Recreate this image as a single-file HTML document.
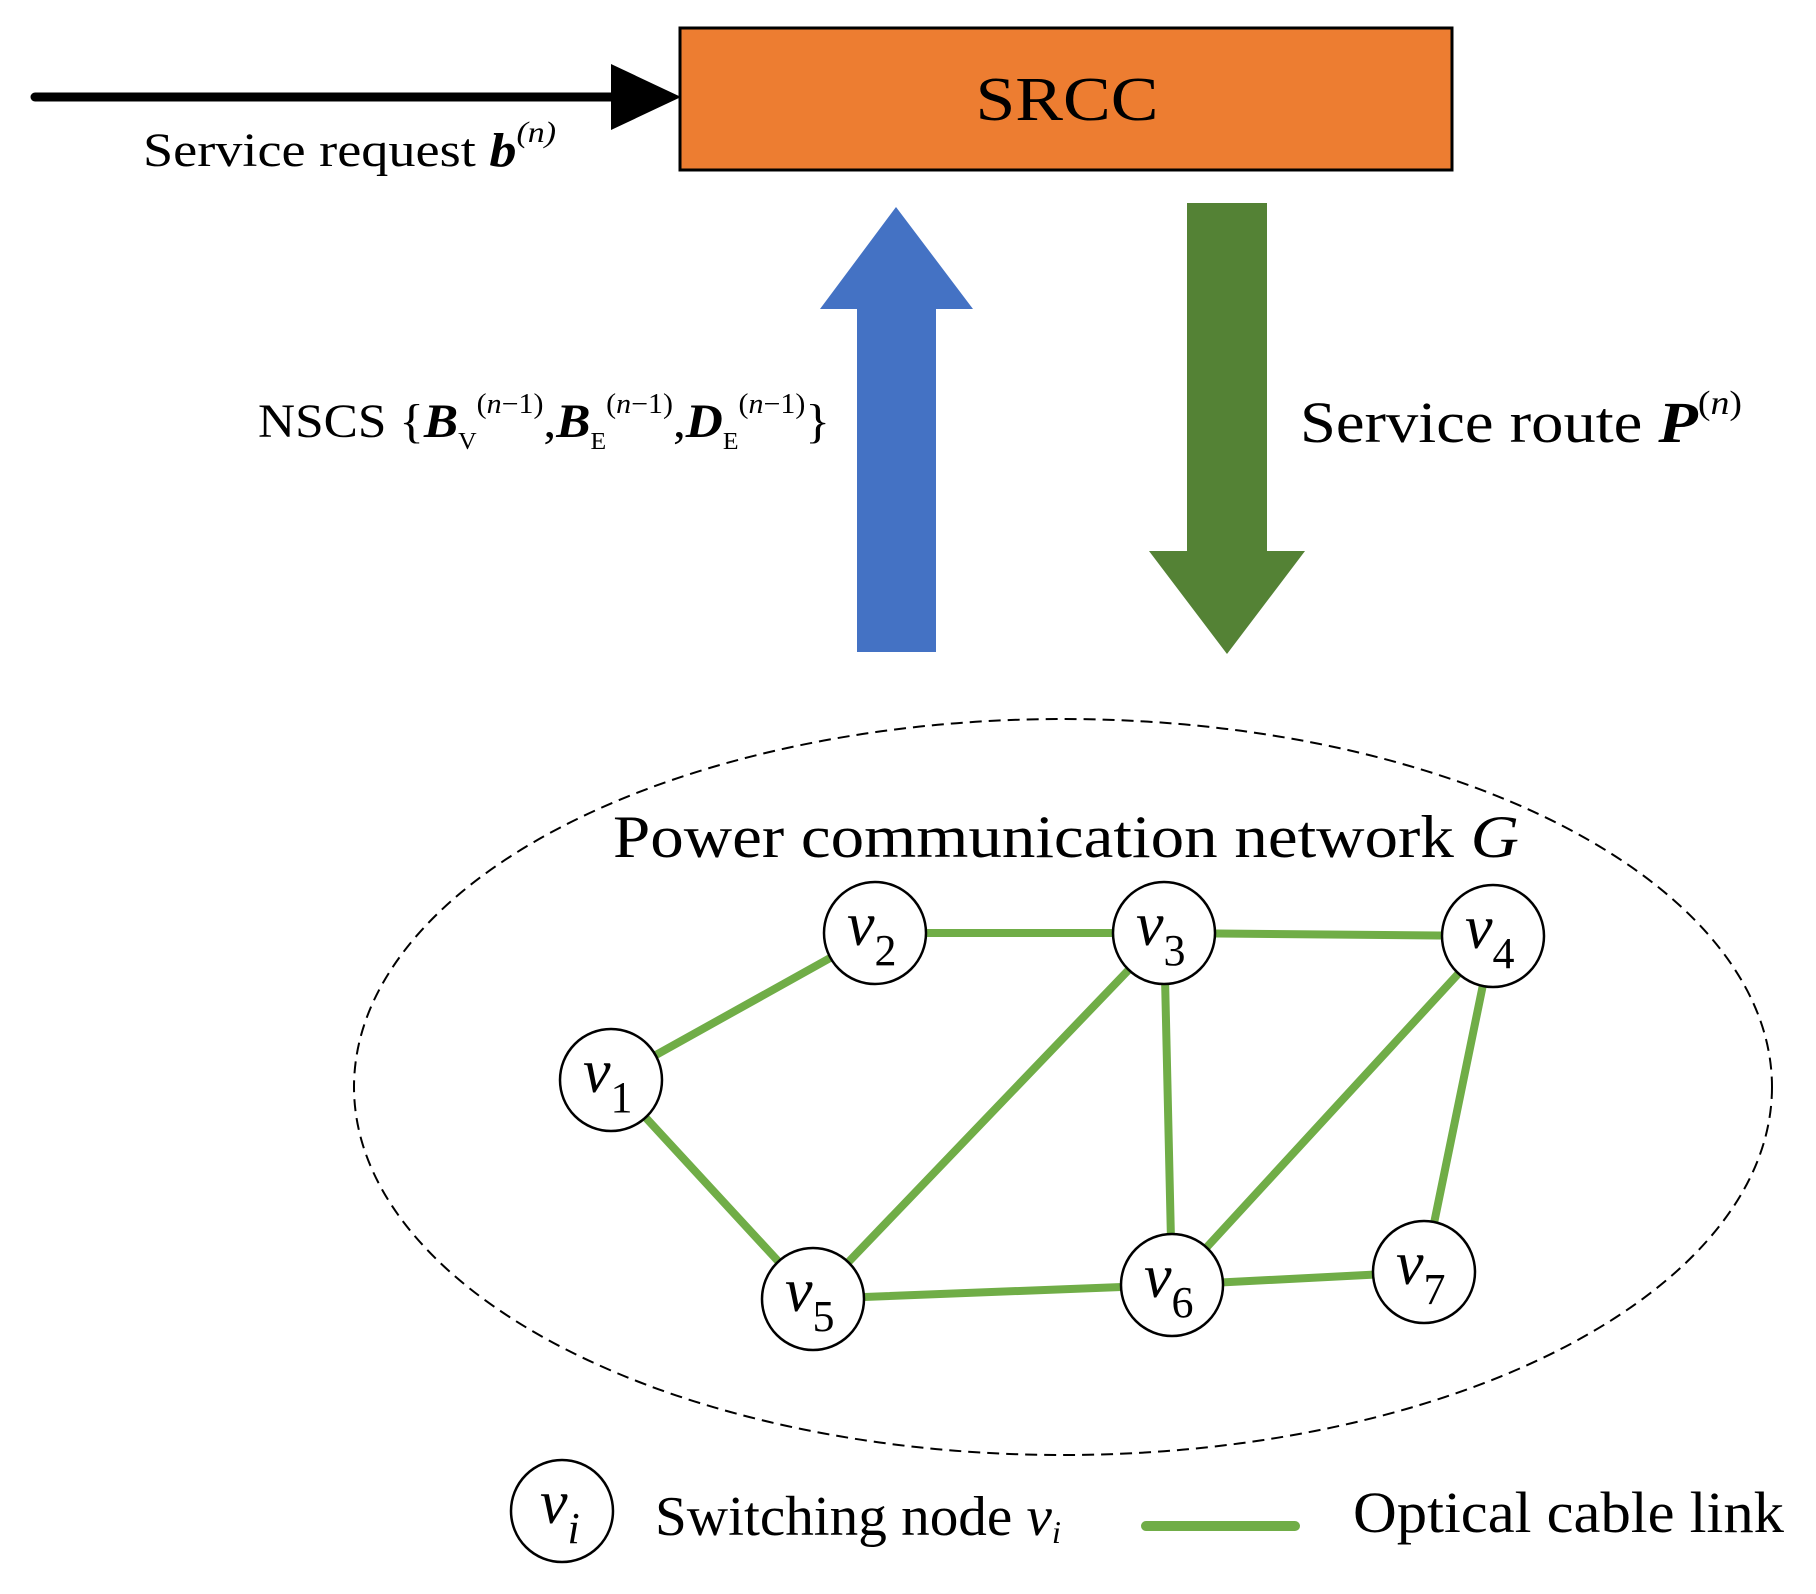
<!DOCTYPE html>
<html><head><meta charset="utf-8"><style>html,body{margin:0;padding:0;background:#fff}</style></head>
<body>
<svg width="1816" height="1589" viewBox="0 0 1816 1589" xmlns="http://www.w3.org/2000/svg" font-family="'Liberation Serif', serif">
<rect x="680" y="28" width="772" height="142" fill="#ED7D31" stroke="#000" stroke-width="3"/>
<text x="1067" y="120" font-size="62" text-anchor="middle" textLength="183" lengthAdjust="spacingAndGlyphs">SRCC</text>
<line x1="35" y1="97" x2="620" y2="97" stroke="#000" stroke-width="9" stroke-linecap="round"/>
<polygon points="611,64 681,97 611,130" fill="#000"/>
<text x="143" y="166" font-size="48" textLength="413" lengthAdjust="spacingAndGlyphs">Service request <tspan font-weight="bold" font-style="italic">b</tspan><tspan font-size="30" font-style="italic" dy="-24">(n)</tspan></text>
<polygon points="857,652 936,652 936,309 973,309 896,207 820,309 857,309" fill="#4472C4"/>
<polygon points="1187,203 1267,203 1267,551 1305,551 1227,654 1149,551 1187,551" fill="#548235"/>
<text x="258" y="437" font-size="48" textLength="572" lengthAdjust="spacingAndGlyphs">NSCS  {<tspan font-weight="bold" font-style="italic">B</tspan><tspan font-size="24" dy="12">V</tspan><tspan font-size="28" dy="-36">(<tspan font-style="italic">n</tspan>−1)</tspan><tspan dy="24">,</tspan><tspan font-weight="bold" font-style="italic">B</tspan><tspan font-size="24" dy="12">E</tspan><tspan font-size="28" dy="-36">(<tspan font-style="italic">n</tspan>−1)</tspan><tspan dy="24">,</tspan><tspan font-weight="bold" font-style="italic">D</tspan><tspan font-size="24" dy="12">E</tspan><tspan font-size="28" dy="-36">(<tspan font-style="italic">n</tspan>−1)</tspan><tspan dy="24">}</tspan></text>
<text x="1300" y="442" font-size="58" textLength="442" lengthAdjust="spacingAndGlyphs">Service route <tspan font-weight="bold" font-style="italic">P</tspan><tspan font-size="34" dy="-28">(<tspan font-style="italic">n</tspan>)</tspan></text>
<g transform="translate(-4,-5)">
<ellipse cx="1067" cy="1092" rx="709" ry="368" fill="none" stroke="#000" stroke-width="2" stroke-dasharray="12,7"/>
<text x="617" y="862" font-size="60" textLength="906" lengthAdjust="spacingAndGlyphs">Power communication network <tspan font-style="italic">G</tspan></text>
<g stroke="#70AD47" stroke-width="8" stroke-linecap="round">
<line x1="615" y1="1085" x2="879" y2="938"/>
<line x1="879" y1="938" x2="1168" y2="938"/>
<line x1="1168" y1="938" x2="1497" y2="941"/>
<line x1="615" y1="1085" x2="817" y2="1304"/>
<line x1="817" y1="1304" x2="1168" y2="938"/>
<line x1="1168" y1="938" x2="1176" y2="1290"/>
<line x1="1497" y1="941" x2="1176" y2="1290"/>
<line x1="1497" y1="941" x2="1428" y2="1277"/>
<line x1="817" y1="1304" x2="1176" y2="1290"/>
<line x1="1176" y1="1290" x2="1428" y2="1277"/>
<line x1="1150" y1="1531" x2="1299" y2="1531" stroke-width="10"/>
</g>
<g fill="#fff" stroke="#000" stroke-width="2.5">
<circle cx="615" cy="1085" r="51"/><circle cx="879" cy="938" r="51"/><circle cx="1168" cy="938" r="51"/><circle cx="1497" cy="941" r="51"/>
<circle cx="817" cy="1304" r="51"/><circle cx="1176" cy="1290" r="51"/><circle cx="1428" cy="1277" r="51"/><circle cx="566" cy="1516" r="51"/>
</g>
<g font-size="62">
<text x="587" y="1097"><tspan font-style="italic">v</tspan><tspan font-size="44" dy="20">1</tspan></text>
<text x="851" y="950"><tspan font-style="italic">v</tspan><tspan font-size="44" dy="20">2</tspan></text>
<text x="1140" y="950"><tspan font-style="italic">v</tspan><tspan font-size="44" dy="20">3</tspan></text>
<text x="1469" y="953"><tspan font-style="italic">v</tspan><tspan font-size="44" dy="20">4</tspan></text>
<text x="789" y="1316"><tspan font-style="italic">v</tspan><tspan font-size="44" dy="20">5</tspan></text>
<text x="1148" y="1302"><tspan font-style="italic">v</tspan><tspan font-size="44" dy="20">6</tspan></text>
<text x="1400" y="1289"><tspan font-style="italic">v</tspan><tspan font-size="44" dy="20">7</tspan></text>
<text x="544" y="1528" font-style="italic">v<tspan font-size="44" dy="20">i</tspan></text>
</g>
<text x="659" y="1540" font-size="56" textLength="406" lengthAdjust="spacingAndGlyphs">Switching node <tspan font-style="italic">v</tspan><tspan font-size="32" font-style="italic" dy="8">i</tspan></text>
<text x="1357" y="1537" font-size="58" textLength="431" lengthAdjust="spacingAndGlyphs">Optical cable link</text>
</g>
</svg>
</body></html>
